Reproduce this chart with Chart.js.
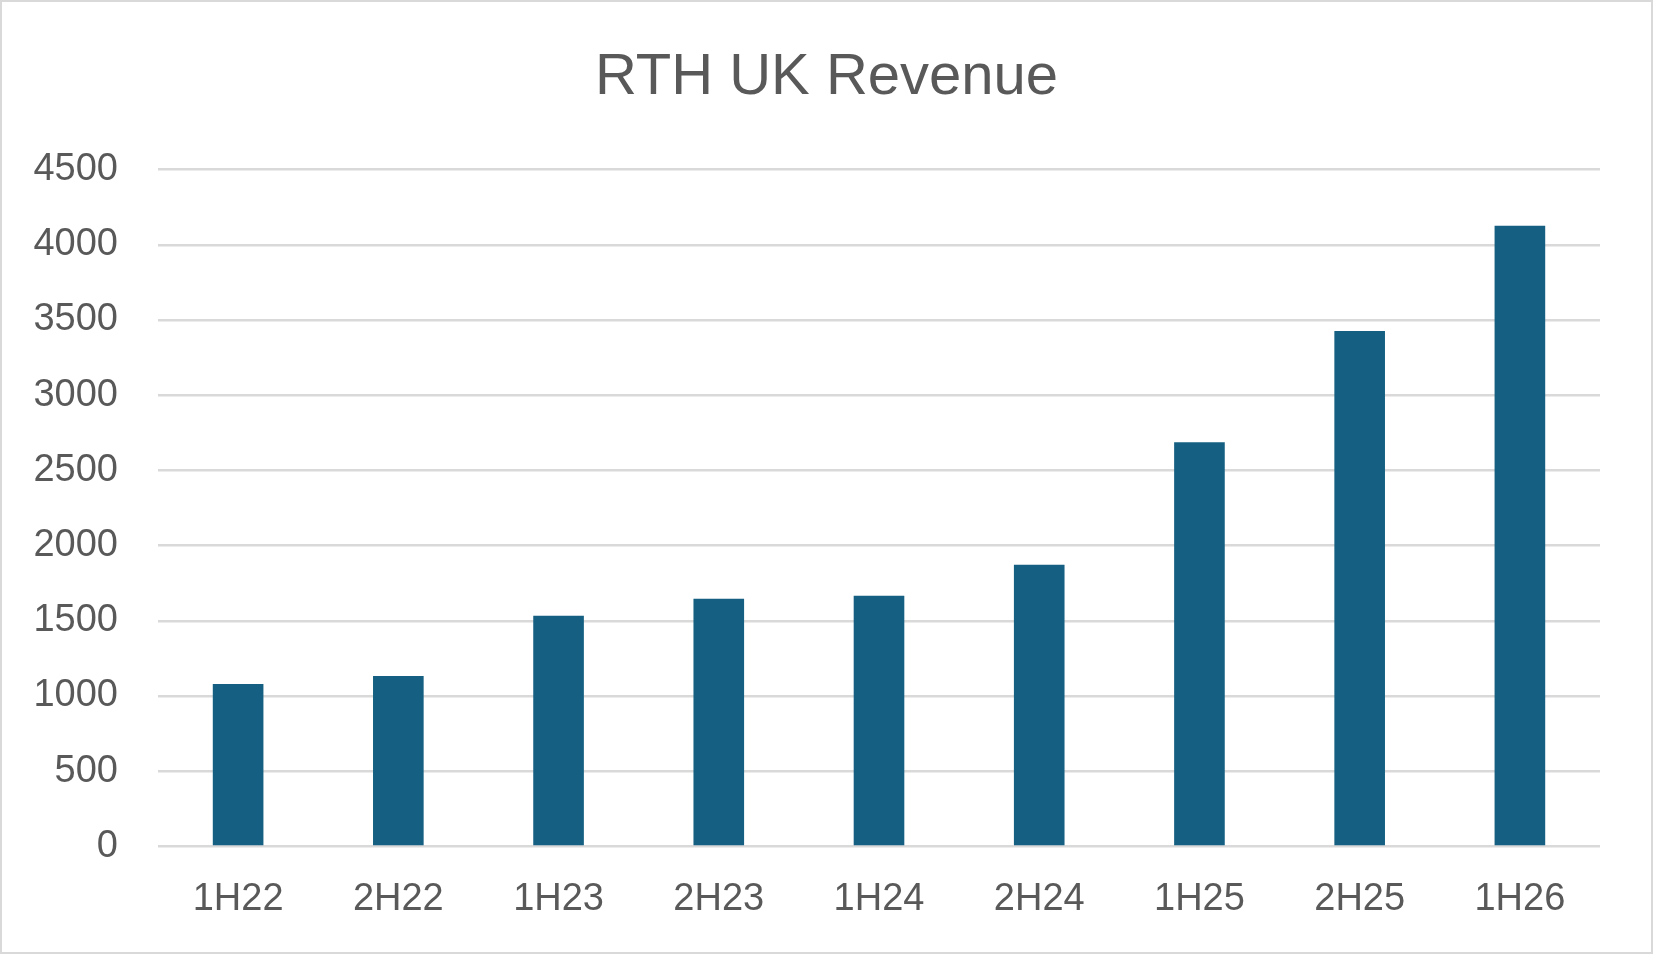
<!DOCTYPE html>
<html>
<head>
<meta charset="utf-8">
<script src="https://cdn.jsdelivr.net/npm/chart.js@4.4.0/dist/chart.umd.min.js"></script>
<style>
    html, body { margin: 0; padding: 0; background: #ffffff; }
    #wrap {
        position: absolute; left: 0; top: 0;
        width: 1653px; height: 954px;
        box-sizing: border-box;
        border: 2px solid #d9d9d9;
        background: #ffffff;
    }
</style>
</head>
<body>
<div id="wrap"><canvas id="chart_barras"></canvas></div>
<script>
// datos del grafico
var categorias = ['1H22', '2H22', '1H23', '2H23', '1H24', '2H24', '1H25', '2H25', '1H26'];
var ingresos = [1080, 1133, 1533, 1647, 1667, 1873, 2687, 3427, 4127];
var ticksY = [0, 500, 1000, 1500, 2000, 2500, 3000, 3500, 4000, 4500];

var colorTexto = '#595959';
var fuente = "'Liberation Sans', Arial, sans-serif";

var canvas = document.getElementById('chart_barras').getContext('2d');
window.barras = new Chart(canvas, {
    type: 'bar',
    data: {
        labels: categorias,
        datasets: [{
            label: 'RTH UK Revenue',
            data: ingresos,
            backgroundColor: '#156082',
            barPercentage: 0.316,
            categoryPercentage: 1.0
        }]
    },
    options: {
        responsive: true,
        maintainAspectRatio: false,
        animation: false,
        layout: {
            padding: { left: 0, right: 0, top: 0, bottom: 0 }
        },
        plugins: {
            legend: { display: false },
            tooltip: { enabled: false },
            title: {
                display: true,
                text: 'RTH UK Revenue',
                color: colorTexto,
                font: { family: fuente, size: 58, weight: 'normal' },
                padding: { top: 41, bottom: 57 }
            }
        },
        scales: {
            x: {
                grid: { display: false, drawTicks: false },
                border: { display: false },
                ticks: {
                    color: colorTexto,
                    font: { family: fuente, size: 38 },
                    padding: 30,
                    maxRotation: 0
                }
            },
            y: {
                min: 0,
                max: 4500,
                afterBuildTicks: function(scale) {
                    scale.ticks = ticksY.map(function(v) { return { value: v }; });
                },
                afterFit: function(scale) {
                    scale.width = 156;
                },
                grid: { color: '#d9d9d9', lineWidth: 2.5, drawTicks: false },
                border: { display: false },
                ticks: {
                    color: colorTexto,
                    font: { family: fuente, size: 38 },
                    padding: 40,
                    callback: function(valor) { return String(valor); }
                }
            },
            // eje vacio a la derecha, solo deja el margen
            margen: {
                position: 'right',
                min: 0,
                max: 4500,
                afterFit: function(scale) {
                    scale.width = 51;
                },
                grid: { display: false, drawTicks: false },
                border: { display: false },
                ticks: { display: false }
            }
        }
    }
});
</script>
</body>
</html>
